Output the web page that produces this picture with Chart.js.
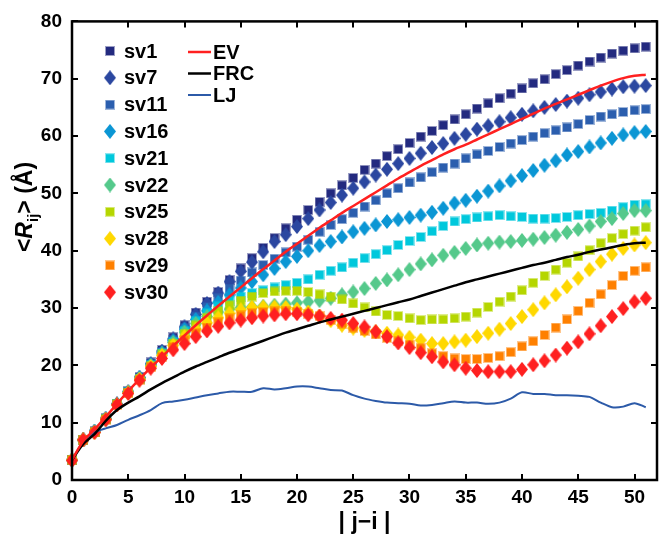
<!DOCTYPE html>
<html>
<head>
<meta charset="utf-8">
<script src="https://cdn.jsdelivr.net/npm/chart.js@4.4.1/dist/chart.umd.min.js"></script>
<style>
  html, body { margin: 0; padding: 0; background: #fff; }
  #wrap { width: 663px; height: 536px; position: relative; }
</style>
</head>
<body>
<div id="wrap"><canvas id="rijChart" width="663" height="536"></canvas></div>
<script>
// ==========================================
// DATA: <R_ij> versus sequence separation |j-i|
// ==========================================

const sepJI = [0,1,2,3,4,5,6,7,8,9,10,11,12,13,14,15,16,17,18,19,20,21,22,23,24,25,
  26,27,28,29,30,31,32,33,34,35,36,37,38,39,40,41,42,43,44,45,46,47,48,49,50,51];

const sv1 = [3.5,7.0,8.5,10.8,13.3,15.5,18.0,20.5,22.7,24.9, 27.0,29.2,31.1,32.8,34.9,36.9,38.7,40.5,42.2,43.9,
  45.4,47.1,48.5,50.0,51.4,52.7,54.1,55.2,56.5,57.7, 58.8,59.9,60.9,61.9,62.9,63.8,64.8,65.7,66.6,67.4,
  68.3,69.2,69.9,70.8,71.5,72.3,73.0,73.7,74.4,74.9, 75.3,75.6];
const sv7 = [3.5,7.0,8.5,10.7,13.3,15.4,17.9,20.3,22.5,24.6, 26.7,28.9,30.8,32.6,34.6,36.4,38.0,39.8,41.6,42.8,
  44.2,45.6,47.1,48.4,49.7,50.9,52.0,53.2,54.2,55.2, 56.1,57.0,58.0,58.7,59.6,60.3,61.2,61.8,62.5,63.2,
  63.8,64.4,65.0,65.5,66.1,66.6,67.2,67.7,68.2,68.6, 68.7,68.8];
const sv11 = [3.5,7.0,8.4,10.7,13.2,15.4,17.8,20.2,22.3,24.4, 26.5,28.5,30.2,31.8,33.4,34.8,36.2,37.5,38.6,39.7,
  40.7,41.9,43.3,44.5,45.5,46.6,47.7,48.8,50.0,50.9, 51.9,52.8,53.7,54.5,55.2,56.1,56.8,57.4,58.1,58.7,
  59.3,59.9,60.5,61.0,61.5,62.1,62.8,63.4,63.8,64.2, 64.5,64.7];
const sv16 = [3.5,7.0,8.4,10.7,13.2,15.3,17.8,20.1,22.2,24.3, 26.3,28.0,29.5,31.0,32.3,33.5,34.6,35.8,36.9,38.1,
  39.0,40.0,40.9,41.6,42.4,43.3,43.9,44.5,45.1,45.4, 45.8,46.2,46.7,47.4,48.3,48.8,49.5,50.4,51.3,52.2,
  53.1,54.0,54.9,55.7,56.7,57.3,58.1,58.8,59.6,60.2, 60.6,60.8];
const sv21 = [3.5,7.0,8.4,10.6,13.2,15.3,17.7,20.0,22.1,24.1, 26.0,27.7,29.1,30.3,31.3,32.0,32.6,33.1,33.6,34.0,
  34.4,35.0,35.8,36.5,37.1,37.9,38.7,39.4,40.1,41.0, 41.7,42.4,43.4,44.3,45.1,45.5,45.8,46.0,46.2,46.0,
  45.9,45.6,45.6,45.7,45.9,46.2,46.4,46.6,47.0,47.6, 48.0,48.1];
const sv22 = [3.5,7.0,8.4,10.6,13.2,15.3,17.7,20.0,22.0,24.0, 25.8,27.3,28.5,29.3,29.8,30.1,30.2,30.3,30.5,30.7,
  30.9,31.1,31.3,31.7,32.3,32.8,33.4,34.3,34.9,35.8, 36.7,37.7,38.4,39.2,39.7,40.4,41.0,41.3,41.5,41.6,
  41.8,42.0,42.3,42.7,43.2,43.7,44.3,45.1,45.6,46.5, 47.0,47.0];
const sv25 = [3.5,7.0,8.4,10.6,13.2,15.2,17.6,19.9,21.9,23.8, 25.5,27.0,28.3,29.5,30.5,31.3,32.0,32.6,32.9,33.0,
  33.0,32.8,32.4,32.0,31.5,30.8,30.1,29.4,28.8,28.6, 28.2,27.9,28.0,28.0,28.2,28.5,29.2,30.2,31.1,32.0,
  33.1,34.4,35.6,36.7,37.9,39.0,40.1,41.3,42.2,42.9, 43.5,44.1];
const sv28 = [3.5,7.0,8.3,10.6,13.1,15.2,17.6,19.8,21.7,23.5, 25.0,26.3,27.4,28.3,29.1,29.7,30.1,30.2,30.2,30.1,
  29.8,29.3,28.6,27.8,27.0,26.5,26.1,25.9,25.6,25.3, 24.9,24.4,23.8,23.8,24.1,24.4,25.0,25.6,26.3,27.3,
  28.5,29.7,30.9,32.3,33.7,35.2,36.7,38.1,39.4,40.4, 41.0,41.4];
const sv29 = [3.5,7.0,8.3,10.5,13.1,15.2,17.5,19.7,21.5,23.2, 24.4,25.6,26.6,27.5,28.2,28.7,29.1,29.3,29.4,29.4,
  29.3,29.0,28.6,27.9,27.3,26.6,26.0,25.4,24.8,24.2, 23.6,23.0,22.1,21.6,21.2,21.1,21.1,21.3,21.6,22.3,
  23.3,24.2,25.3,26.6,28.0,29.5,30.9,32.4,34.0,35.6, 36.5,37.1];
const sv30 = [3.4,7.0,8.3,10.5,13.1,15.1,17.4,19.5,21.2,22.7, 23.8,25.0,26.0,26.8,27.4,27.9,28.3,28.6,28.8,29.0,
  29.0,28.8,28.6,28.2,27.9,27.3,26.7,25.9,25.0,23.9, 23.1,22.2,21.5,20.6,20.1,19.5,19.1,18.9,18.9,18.9,
  19.3,20.1,20.8,21.8,23.0,24.1,25.5,26.9,28.5,29.9, 31.1,31.7];

const evLine = [3.5,6.8,8.8,11.0,13.3,15.5,17.6,19.6,21.5,23.4, 25.2,27.0,28.7,30.4,32.0,33.6,35.2,36.8,38.3,39.8,
  41.2,42.6,44.0,45.3,46.6,47.8,49.0,50.2,51.4,52.6, 53.7,54.8,55.8,56.8,57.7,58.5,59.4,60.3,61.2,62.1,
  63.0,63.9,64.8,65.6,66.4,67.2,68.0,68.8,69.5,70.1, 70.5,70.7];
const frcLine = [3.5,6.3,8.0,10.3,12.2,13.5,14.6,15.8,16.9,17.9, 18.9,19.8,20.6,21.4,22.2,22.9,23.6,24.3,25.0,25.7,
  26.3,26.9,27.5,28.0,28.5,29.0,29.5,30.0,30.5,31.0, 31.5,32.1,32.7,33.3,33.9,34.5,35.0,35.5,36.0,36.5,
  37.0,37.5,37.9,38.4,38.9,39.3,39.8,40.2,40.6,41.0, 41.3,41.4];
const ljLine = [3.4,6.7,8.3,9.0,9.6,10.5,11.3,12.2,13.4,13.7, 14.0,14.4,14.8,15.1,15.4,15.4,15.4,16.0,15.8,16.0,
  16.3,16.3,16.0,15.7,15.6,14.8,14.2,13.8,13.5,13.4, 13.3,13.0,13.1,13.4,13.7,13.5,13.5,13.3,13.5,14.2,
  15.3,15.0,15.0,14.8,14.8,14.7,14.5,13.5,12.7,12.8, 13.4,12.7];

const markerSeries = [
  { name: 'sv1',  values: sv1,  shape: 'square',  color: '#232a7f' },
  { name: 'sv7',  values: sv7,  shape: 'diamond', color: '#2b47a0' },
  { name: 'sv11', values: sv11, shape: 'square',  color: '#2b5eae' },
  { name: 'sv16', values: sv16, shape: 'diamond', color: '#0b96d4' },
  { name: 'sv21', values: sv21, shape: 'square',  color: '#00c8dc' },
  { name: 'sv22', values: sv22, shape: 'diamond', color: '#55c98b' },
  { name: 'sv25', values: sv25, shape: 'square',  color: '#b5d600' },
  { name: 'sv28', values: sv28, shape: 'diamond', color: '#ffd800' },
  { name: 'sv29', values: sv29, shape: 'square',  color: '#ff8000' },
  { name: 'sv30', values: sv30, shape: 'diamond', color: '#ff2020' }
];

const lineSeries = [
  { name: 'EV',  values: evLine,  color: '#ff2020', width: 2.5 },
  { name: 'FRC', values: frcLine, color: '#000000', width: 2.5 },
  { name: 'LJ',  values: ljLine,  color: '#2c5aa8', width: 2 }
];

const xTicks = [0, 5, 10, 15, 20, 25, 30, 35, 40, 45, 50];
const yTicks = [0, 10, 20, 30, 40, 50, 60, 70, 80];

// ==========================================
// STYLE HELPERS
// ==========================================

const TICK_FAMILY = "'Liberation Sans Narrow', 'Arial Narrow', 'Liberation Sans', Arial, sans-serif";
const LABEL_FONT = "bold 20px 'Liberation Sans', Arial, sans-serif";
const TITLE_SIZE = 23;

// small canvas used as point style (square or tall diamond)
function makeMarker(shape, color) {
  const c = document.createElement('canvas');
  const g = c.getContext('2d');
  if (shape === 'square') {
    c.width = 10; c.height = 10;
    g.fillStyle = color;
    g.globalAlpha = 0.45;
    g.fillRect(0, 0, 10, 10);
    g.globalAlpha = 1;
    g.fillRect(1, 1, 8, 8);
  } else {
    c.width = 12; c.height = 15;
    g.fillStyle = color;
    g.beginPath();
    g.moveTo(6, 0);
    g.lineTo(12, 7.5);
    g.lineTo(6, 15);
    g.lineTo(0, 7.5);
    g.closePath();
    g.fill();
  }
  return c;
}

markerSeries.forEach(s => { s.img = makeMarker(s.shape, s.color); });

// ==========================================
// PLUGINS: frame with inward ticks, legend, axis titles
// ==========================================

const framePlugin = {
  id: 'framePlugin',
  afterDatasetsDraw(chart) {
    const { ctx, chartArea: a, scales } = chart;
    const len = 6;
    ctx.save();
    ctx.strokeStyle = '#000';
    ctx.lineWidth = 2;
    ctx.beginPath();
    xTicks.forEach(v => {
      const px = Math.round(scales.x.getPixelForValue(v));
      ctx.moveTo(px, a.bottom); ctx.lineTo(px, a.bottom - len);
      ctx.moveTo(px, a.top); ctx.lineTo(px, a.top + len);
    });
    yTicks.forEach(v => {
      const py = Math.round(scales.y.getPixelForValue(v));
      ctx.moveTo(a.left, py); ctx.lineTo(a.left + len, py);
      ctx.moveTo(a.right, py); ctx.lineTo(a.right - len, py);
    });
    ctx.stroke();
    ctx.lineWidth = 2.5;
    ctx.strokeRect(a.left, a.top, a.right - a.left, a.bottom - a.top);
    ctx.restore();
  }
};

const legendPlugin = {
  id: 'legendPlugin',
  afterDraw(chart) {
    const ctx = chart.ctx;
    ctx.save();
    ctx.font = LABEL_FONT;
    ctx.fillStyle = '#000';
    ctx.textBaseline = 'middle';
    ctx.textAlign = 'left';
    markerSeries.forEach((s, i) => {
      const y = 51 + i * 26.8;
      ctx.drawImage(s.img, 110 - s.img.width / 2, y - s.img.height / 2);
      ctx.fillText(s.name, 124, y + 1);
    });
    lineSeries.forEach((s, i) => {
      const y = 52 + i * 21.5;
      ctx.strokeStyle = s.color;
      ctx.lineWidth = s.width;
      ctx.beginPath();
      ctx.moveTo(188, y); ctx.lineTo(211, y);
      ctx.stroke();
      ctx.fillText(s.name, 213, y + 1);
    });
    ctx.restore();
  }
};

const titlePlugin = {
  id: 'titlePlugin',
  afterDraw(chart) {
    const { ctx, chartArea: a } = chart;
    const fam = "'Liberation Sans', Arial, sans-serif";
    ctx.save();
    ctx.fillStyle = '#000';
    ctx.textBaseline = 'alphabetic';

    // x title
    ctx.font = `bold ${TITLE_SIZE}px ${fam}`;
    ctx.textAlign = 'center';
    ctx.fillText('| j\u2212i |', (a.left + a.right) / 2, 529);

    // y title with subscript, rotated
    const parts = [
      { t: '<', f: `bold ${TITLE_SIZE}px ${fam}`, dy: 0 },
      { t: 'R', f: `italic bold ${TITLE_SIZE}px ${fam}`, dy: 0 },
      { t: 'ij', f: `bold 15px ${fam}`, dy: 6 },
      { t: '> (\u00c5)', f: `bold ${TITLE_SIZE}px ${fam}`, dy: 0 }
    ];
    let total = 0;
    parts.forEach(p => { ctx.font = p.f; p.w = ctx.measureText(p.t).width; total += p.w; });
    ctx.translate(32, 207);
    ctx.rotate(-Math.PI / 2);
    ctx.textAlign = 'left';
    let x = -total / 2;
    parts.forEach(p => {
      ctx.font = p.f;
      ctx.fillText(p.t, x, p.dy);
      x += p.w;
    });
    ctx.restore();
  }
};

// ==========================================
// CHART
// ==========================================

const datasets = [];
lineSeries.forEach(s => {
  datasets.push({
    label: s.name,
    data: s.values,
    borderColor: s.color,
    borderWidth: s.width,
    pointRadius: 0,
    fill: false,
    tension: 0.3,
    order: 0,
    clip: false
  });
});
markerSeries.forEach((s, i) => {
  datasets.push({
    label: s.name,
    data: s.values,
    showLine: false,
    pointStyle: s.img,
    pointRadius: 5,
    backgroundColor: s.color,
    borderColor: s.color,
    order: 1 + (markerSeries.length - i),
    clip: false
  });
});

new Chart(document.getElementById('rijChart').getContext('2d'), {
  type: 'line',
  data: { labels: sepJI, datasets: datasets },
  options: {
    responsive: false,
    animation: false,
    events: [],
    layout: { padding: { left: 0, right: 1, top: 21, bottom: 0 } },
    plugins: { legend: { display: false }, tooltip: { enabled: false } },
    scales: {
      x: {
        type: 'linear',
        min: 0,
        max: 52,
        afterFit: scale => { scale.height = 56; },
        afterBuildTicks: scale => { scale.ticks = xTicks.map(v => ({ value: v })); },
        grid: { display: false, drawTicks: false },
        border: { display: false },
        ticks: { font: { family: TICK_FAMILY, size: 19, weight: 'bold' }, color: '#000', padding: 6, maxRotation: 0 }
      },
      y: {
        type: 'linear',
        min: 0,
        max: 80,
        afterFit: scale => { scale.width = 72; },
        afterBuildTicks: scale => { scale.ticks = yTicks.map(v => ({ value: v })); },
        grid: { display: false, drawTicks: false },
        border: { display: false },
        ticks: { font: { family: TICK_FAMILY, size: 19, weight: 'bold' }, color: '#000', padding: 10 }
      }
    }
  },
  plugins: [framePlugin, legendPlugin, titlePlugin]
});
</script>
</body>
</html>
